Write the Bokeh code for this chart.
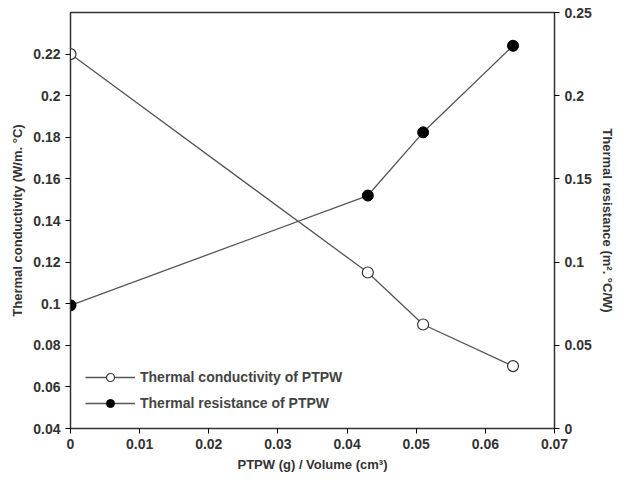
from bokeh.plotting import figure
from bokeh.models import LinearAxis, Range1d, Legend, LegendItem, FixedTicker
from bokeh.embed import file_html
from bokeh.resources import INLINE

x = [0, 0.043, 0.051, 0.064]
conductivity = [0.22, 0.115, 0.09, 0.07]
resistance = [0.074, 0.14, 0.178, 0.23]

F = "Liberation Sans"
p = figure(width=624, height=488, output_backend="svg", toolbar_location=None,
           x_range=Range1d(0, 0.07), y_range=Range1d(0.04, 0.24),
           min_border_left=70, min_border_right=70, min_border_top=12, min_border_bottom=60)
p.grid.visible = False
p.outline_line_color = "#333333"
p.outline_line_width = 1.5
p.extra_y_ranges = {"r": Range1d(0, 0.25)}

p.xaxis.ticker = FixedTicker(ticks=[0, 0.01, 0.02, 0.03, 0.04, 0.05, 0.06, 0.07])
p.yaxis.ticker = FixedTicker(ticks=[0.04 + 0.02 * i for i in range(11)])
p.xaxis.axis_label = "PTPW (g) / Volume (cm³)"
p.yaxis.axis_label = "Thermal conductivity (W/m. °C)"
ax2 = LinearAxis(y_range_name="r", axis_label="Thermal resistance (m². °C/W)",
                 ticker=FixedTicker(ticks=[0, 0.05, 0.1, 0.15, 0.2, 0.25]))
p.add_layout(ax2, "right")
for a in [p.xaxis[0], p.yaxis[0], ax2]:
    a.axis_label_text_font = F
    a.axis_label_text_font_style = "bold"
    a.axis_label_text_font_size = "13px"
    a.major_label_text_font = F
    a.major_label_text_font_style = "bold"
    a.major_label_text_font_size = "14px"
    a.major_label_text_color = "#333333"
    a.axis_label_text_color = "#333333"
    a.minor_tick_line_color = None
    a.major_tick_in = 0
    a.major_tick_out = 5
    a.axis_line_color = "#333333"
    a.major_label_overrides = {}

l1 = p.line(x, conductivity, color="#555555", line_width=1.3)
s1 = p.scatter(x, conductivity, size=11, fill_color="white", line_color="#333333", line_width=1.2)
l2 = p.line(x, resistance, color="#555555", line_width=1.3, y_range_name="r")
s2 = p.scatter(x, resistance, size=11, fill_color="black", line_color="black", y_range_name="r")

leg = Legend(items=[LegendItem(label="Thermal conductivity of PTPW", renderers=[l1, s1]),
                    LegendItem(label="Thermal resistance of PTPW", renderers=[l2, s2])],
             border_line_color=None, background_fill_alpha=0,
             label_text_font=F, label_text_font_style="bold", label_text_font_size="14px",
             glyph_width=50, spacing=6)
p.add_layout(leg, "center")
leg.location = "bottom_left"
leg.margin = 15

open("out.html", "w").write(file_html(p, INLINE))
